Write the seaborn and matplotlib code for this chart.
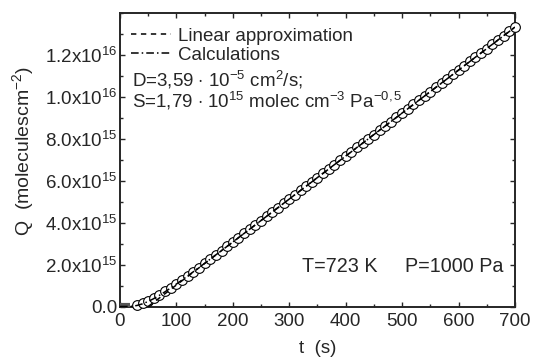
"""
Permeation curve: Q(t) measured vs calculated, T=723 K, P=1000 Pa
"""
#------------------------------------------------------------------------------
# Libraries
#------------------------------------------------------------------------------

import numpy as np
import pandas as pd
import seaborn as sns
import matplotlib.pyplot as plt
from matplotlib.ticker import MultipleLocator

#------------------------------------------------------------------------------
# Data (Q in units of 1e15 molecules cm^-2)
#------------------------------------------------------------------------------

t_meas = [30, 40, 50, 60, 70, 80, 90, 100, 110, 120, 130, 140, 150, 160,
          170, 180, 190, 200, 210, 220, 230, 240, 250, 260, 270, 280, 290,
          300, 310, 320, 330, 340, 350, 360, 370, 380, 390, 400, 410, 420,
          430, 440, 450, 460, 470, 480, 490, 500, 510, 520, 530, 540, 550,
          560, 570, 580, 590, 600, 610, 620, 630, 640, 650, 660, 670, 680,
          690, 700]
q_meas = [0.09, 0.17, 0.27, 0.40, 0.55, 0.72, 0.90, 1.08, 1.27, 1.46, 1.66,
          1.86, 2.06, 2.26, 2.47, 2.67, 2.87, 3.08, 3.28, 3.49, 3.69, 3.90,
          4.10, 4.31, 4.51, 4.72, 4.92, 5.13, 5.33, 5.54, 5.74, 5.95, 6.15,
          6.36, 6.56, 6.77, 6.97, 7.18, 7.38, 7.59, 7.79, 8.00, 8.20, 8.41,
          8.61, 8.82, 9.02, 9.23, 9.43, 9.64, 9.84, 10.05, 10.25, 10.46,
          10.66, 10.87, 11.07, 11.28, 11.48, 11.69, 11.89, 12.10, 12.30,
          12.51, 12.71, 12.92, 13.12, 13.33]

t_calc = [0, 10, 20, 30, 40, 50, 60, 70, 80, 90, 100, 110, 120, 130, 140,
          150, 160, 170, 180, 190, 200, 250, 300, 350, 400, 450, 500, 550,
          600, 650, 700]
q_calc = [0.0, 0.0002, 0.008, 0.048, 0.128, 0.240, 0.378, 0.535, 0.705,
          0.885, 1.072, 1.263, 1.459, 1.657, 1.858, 2.059, 2.261, 2.465,
          2.668, 2.872, 3.077, 4.100, 5.125, 6.150, 7.175, 8.200, 9.225,
          10.25, 11.275, 12.30, 13.325]

t_lin = [50, 700]
q_lin = [0.0, 13.33]

t_base = [0, 18]
q_base = [0.07, 0.07]

y_ticks = [0, 2, 4, 6, 8, 10, 12]
y_ticklabels = ['0.0', '2.0x10$^{15}$', '4.0x10$^{15}$', '6.0x10$^{15}$',
                '8.0x10$^{15}$', '1.0x10$^{16}$', '1.2x10$^{16}$']

#------------------------------------------------------------------------------
# Style
#------------------------------------------------------------------------------

sns.set_style('ticks')
plt.rcParams['font.family'] = ['Liberation Sans', 'DejaVu Sans']
plt.rcParams['mathtext.fontset'] = 'custom'
plt.rcParams['mathtext.rm'] = 'Liberation Sans'
plt.rcParams['mathtext.it'] = 'Liberation Sans:italic'
fs = 13.5

#------------------------------------------------------------------------------
# Plot
#------------------------------------------------------------------------------

fig = plt.figure(figsize = (5.33, 3.6), dpi = 100)
ax = fig.add_axes([0.2251, 0.1486, 0.7411, 0.8153])

df_meas = pd.DataFrame({'t': t_meas, 'Q': q_meas})
df_calc = pd.DataFrame({'t': t_calc, 'Q': q_calc})
df_lin = pd.DataFrame({'t': t_lin, 'Q': q_lin})
df_base = pd.DataFrame({'t': t_base, 'Q': q_base})

sns.lineplot(data = df_base, x = 't', y = 'Q', ax = ax, color = '#555555',
             linewidth = 3.0, solid_capstyle = 'butt', zorder = 3,
             clip_on = False)
sns.lineplot(data = df_meas, x = 't', y = 'Q', ax = ax, linestyle = 'none',
             marker = 'o', markersize = 7.0, markerfacecolor = 'white',
             markeredgecolor = 'black', markeredgewidth = 0.8,
             zorder = 3, clip_on = False)
sns.lineplot(data = df_lin, x = 't', y = 'Q', ax = ax, color = 'black',
             linestyle = (0, (3.5, 3)), linewidth = 1.1,
             label = 'Linear approximation', zorder = 4)
sns.lineplot(data = df_calc, x = 't', y = 'Q', ax = ax, color = 'black',
             linestyle = (0, (5, 2, 1, 2)), linewidth = 1.1,
             label = 'Calculations', zorder = 4)

ax.set_xlim(0, 700)
ax.set_ylim(0, 14)
ax.xaxis.set_major_locator(MultipleLocator(100))
ax.xaxis.set_minor_locator(MultipleLocator(50))
ax.set_yticks(y_ticks)
ax.set_yticklabels(y_ticklabels)
ax.yaxis.set_minor_locator(MultipleLocator(1))
ax.tick_params(which = 'both', direction = 'in', top = True, right = True,
               labelsize = fs, pad = 2, width = 1.0)
ax.tick_params(axis = 'x', which = 'both', pad = 5)
ax.tick_params(which = 'major', length = 3.5)
ax.tick_params(which = 'minor', length = 2)
for s in ax.spines.values():
    s.set_linewidth(1.4)

ax.set_xlabel('t  (s)', fontsize = fs, labelpad = 7)
ax.set_ylabel('Q  (moleculescm$^{-2}$)', fontsize = 14)
ax.yaxis.set_label_coords(-0.212, 0.53)

ax.legend(loc = 'upper left', bbox_to_anchor = (-0.005, 0.995), frameon = False,
          handlelength = 2.1, handletextpad = 0.4, labelspacing = 0.1,
          fontsize = fs, borderaxespad = 0.3)

ax.text(0.03, 0.772, 'D=3,59 $\\cdot$ 10$^{-5}$ cm$^{2}$/s;',
        transform = ax.transAxes, fontsize = fs, va = 'center')
ax.text(0.03, 0.70, 'S=1,79 $\\cdot$ 10$^{15}$ molec cm$^{-3}$ Pa$^{-0,5}$',
        transform = ax.transAxes, fontsize = fs, va = 'center')
ax.text(0.97, 0.135, 'T=723 K     P=1000 Pa',
        transform = ax.transAxes, fontsize = 14.2, va = 'center', ha = 'right')

plt.savefig('out.png', dpi = 100)
